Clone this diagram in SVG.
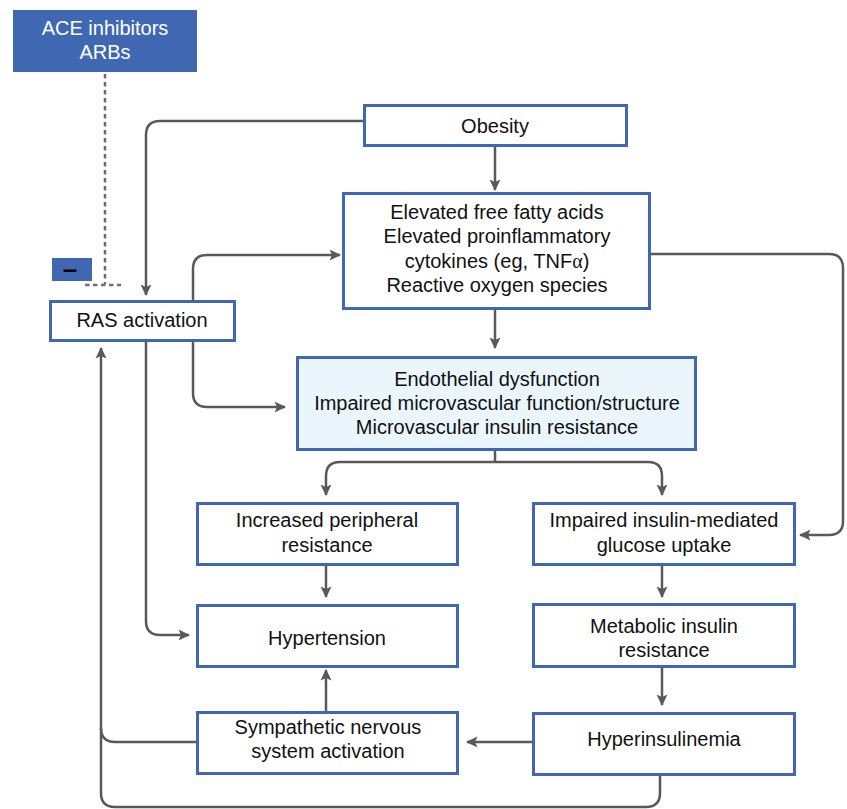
<svg xmlns="http://www.w3.org/2000/svg" width="847" height="809" viewBox="0 0 847 809">
<style>
.box{fill:#fff;stroke:#4068B2;stroke-width:3}
.endo{fill:#EAF6FC;stroke:#4068B2;stroke-width:3}
.t{font-family:"Liberation Sans",Arial,sans-serif;font-size:20px;fill:#111;text-anchor:middle}
.tw{font-family:"Liberation Sans",Arial,sans-serif;font-size:20px;fill:#fff;text-anchor:middle}
.c{fill:none;stroke:#595959;stroke-width:2.5}
.dash{fill:none;stroke:#707070;stroke-width:2.5;stroke-dasharray:4.5,3.5}
</style>
<defs>
<marker id="ah" markerUnits="userSpaceOnUse" viewBox="0 0 12 12" markerWidth="12" markerHeight="12" refX="10.5" refY="6" orient="auto">
<path d="M0,0.5 L11.5,6 L0,11.5 L2.5,6 z" fill="#595959"/>
</marker>
</defs>
<rect width="847" height="809" fill="#fff"/>

<g id="connectors">
<path class="c" d="M363,121 H160 Q146,121 146,135 V295" marker-end="url(#ah)"/>
<path class="c" d="M495,147 V190" marker-end="url(#ah)"/>
<path class="c" d="M495,309 V348" marker-end="url(#ah)"/>
<path class="c" d="M193,301 V269 Q193,255 207,255 H340" marker-end="url(#ah)"/>
<path class="c" d="M193,341 V393 Q193,407 207,407 H285" marker-end="url(#ah)"/>
<path class="c" d="M146,341 V621 Q146,635 160,635 H189" marker-end="url(#ah)"/>
<path class="c" d="M651,254 H829 Q843,254 843,268 V521 Q843,535 829,535 H800" marker-end="url(#ah)"/>
<path class="c" d="M495,451 V462"/>
<path class="c" d="M495,462 H340 Q326,462 326,476 V495" marker-end="url(#ah)"/>
<path class="c" d="M495,462 H648 Q662,462 662,476 V495" marker-end="url(#ah)"/>
<path class="c" d="M326,566 V597" marker-end="url(#ah)"/>
<path class="c" d="M326,711 V670" marker-end="url(#ah)"/>
<path class="c" d="M662,566 V597" marker-end="url(#ah)"/>
<path class="c" d="M662,668 V705" marker-end="url(#ah)"/>
<path class="c" d="M532,742 H467" marker-end="url(#ah)"/>
<path class="c" d="M660,776 V793 Q660,807 646,807 H115 Q101,807 101,793 V348" marker-end="url(#ah)"/>
<path class="c" d="M196,742 H115 Q101,742 101,728"/>
<path class="dash" d="M105,74 V284"/>
<path class="dash" d="M85,285 H121"/>
</g>

<g id="ace">
<rect x="13" y="10" width="184" height="62" fill="#4068B2"/>
<text class="tw" x="105" y="35">ACE inhibitors</text>
<text class="tw" x="105" y="59">ARBs</text>
</g>

<g id="minus">
<rect x="52" y="258" width="40" height="23" fill="#4068B2"/>
<text x="70" y="278" font-family="Liberation Sans,Arial,sans-serif" font-size="26" font-weight="bold" fill="#000" text-anchor="middle">–</text>
</g>

<g id="obesity">
<rect class="box" x="364.5" y="105.5" width="262" height="40"/>
<text class="t" x="495" y="133">Obesity</text>
</g>

<g id="ffa">
<rect class="box" x="343.5" y="193.5" width="306" height="115"/>
<text class="t" x="497" y="219">Elevated free fatty acids</text>
<text class="t" x="497" y="243">Elevated proinflammatory</text>
<text class="t" x="497" y="268">cytokines (eg, TNF<tspan font-family="Liberation Serif,serif">α</tspan>)</text>
<text class="t" x="497" y="292">Reactive oxygen species</text>
</g>

<g id="ras">
<rect class="box" x="50.5" y="301.5" width="184" height="39"/>
<text class="t" x="142" y="327">RAS activation</text>
</g>

<g id="endo">
<rect class="endo" x="297.5" y="357.5" width="398" height="92"/>
<text class="t" x="497" y="386">Endothelial dysfunction</text>
<text class="t" x="497" y="410">Impaired microvascular function/structure</text>
<text class="t" x="497" y="434">Microvascular insulin resistance</text>
</g>

<g id="increased">
<rect class="box" x="197.5" y="503.5" width="260" height="61"/>
<text class="t" x="327" y="527">Increased peripheral</text>
<text class="t" x="327" y="552">resistance</text>
</g>

<g id="hypertension">
<rect class="box" x="197.5" y="605.5" width="260" height="61"/>
<text class="t" x="327" y="645">Hypertension</text>
</g>

<g id="sympathetic">
<rect class="box" x="197.5" y="712.5" width="260" height="61"/>
<text class="t" x="328" y="734">Sympathetic nervous</text>
<text class="t" x="328" y="758">system activation</text>
</g>

<g id="impaired">
<rect class="box" x="533.5" y="503.5" width="261" height="61"/>
<text class="t" x="664" y="527">Impaired insulin-mediated</text>
<text class="t" x="664" y="552">glucose uptake</text>
</g>

<g id="metabolic">
<rect class="box" x="533.5" y="604.5" width="261" height="62"/>
<text class="t" x="664" y="633">Metabolic insulin</text>
<text class="t" x="664" y="657">resistance</text>
</g>

<g id="hyperinsulinemia">
<rect class="box" x="533.5" y="713.5" width="261" height="61"/>
<text class="t" x="664" y="746">Hyperinsulinemia</text>
</g>
</svg>
